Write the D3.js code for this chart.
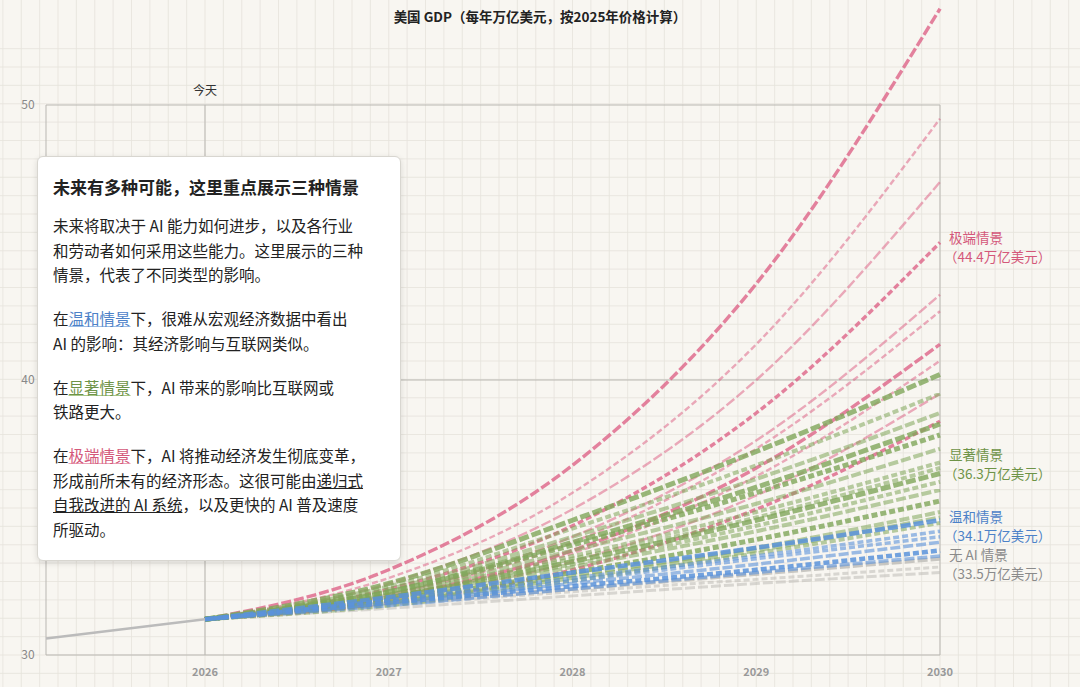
<!DOCTYPE html>
<html><head><meta charset="utf-8">
<script src="https://cdn.jsdelivr.net/npm/d3@7"></script>
<style>
body{margin:0;background:#f8f6f1;font-family:"Noto Sans CJK SC","Noto Sans",sans-serif;}
#box{position:absolute;left:37px;top:156px;width:364px;height:405px;box-sizing:border-box;background:#fff;border:1px solid #d8d6d0;border-radius:6px;box-shadow:0 2px 6px rgba(0,0,0,.12);padding:18px 15px;color:#222;font-size:15.5px;line-height:24.5px;white-space:nowrap;}
#box h3{margin:0 0 14px;font-size:17px;line-height:24px;}
#box p{margin:0 0 19.5px;}
.b{color:#4d82c8;text-decoration:underline;text-decoration-color:#9dbde6;}
.g{color:#6e9347;text-decoration:underline;text-decoration-color:#a9c78a;}
.r{color:#d4587a;text-decoration:underline;text-decoration-color:#eaa3b6;}
.u{text-decoration:underline;}
</style></head><body>
<div id="chart"></div>
<div id="box">
<h3>未来有多种可能，这里重点展示三种情景</h3>
<p>未来将取决于 AI 能力如何进步，以及各行业<br>和劳动者如何采用这些能力。这里展示的三种<br>情景，代表了不同类型的影响。</p>
<p>在<span class="b">温和情景</span>下，很难从宏观经济数据中看出<br>AI 的影响：其经济影响与互联网类似。</p>
<p>在<span class="g">显著情景</span>下，AI 带来的影响比互联网或<br>铁路更大。</p>
<p>在<span class="r">极端情景</span>下，AI 将推动经济发生彻底变革，<br>形成前所未有的经济形态。这很可能由<span class="u">递归式</span><br><span class="u">自我改进的 AI 系统</span>，以及更快的 AI 普及速度<br>所驱动。</p>
</div>
<script>
const years = [2026, 2027, 2028, 2029, 2030];
const history = [[2025.135, 30.6], [2026, 31.3]];
const extreme = [
  [31.3, 33.1, 36.9, 43.5, 53.5], [31.3, 32.8, 35.9, 41.3, 49.5], [31.3, 32.6, 35.3, 40.0, 47.2],
  [31.3, 32.4, 34.7, 38.8, 45.0], [31.3, 32.2, 34.3, 37.8, 43.1], [31.3, 32.2, 34.1, 37.5, 42.5],
  [31.3, 32.1, 33.8, 36.8, 41.3], [31.3, 32.1, 33.7, 36.5, 40.7], [31.3, 32.0, 33.4, 35.8, 39.5],
  [31.3, 31.9, 33.1, 35.3, 38.5]
];
const substantial = [
  [31.3, 32.6, 34.9, 37.4, 40.2], [31.3, 32.5, 34.6, 36.9, 39.5], [31.3, 32.4, 34.3, 36.4, 38.8],
  [31.3, 32.3, 34.0, 35.9, 38.0], [31.3, 32.2, 33.8, 35.5, 37.5], [31.3, 32.2, 33.6, 35.2, 37.0],
  [31.3, 32.1, 33.4, 34.9, 36.6], [31.3, 32.1, 33.3, 34.7, 36.3], [31.3, 32.0, 33.2, 34.5, 36.0],
  [31.3, 32.0, 33.0, 34.2, 35.6], [31.3, 31.9, 32.9, 33.9, 35.2], [31.3, 31.8, 32.7, 33.7, 34.8],
  [31.3, 32.3, 34.1, 36.1, 38.4], [31.3, 32.1, 33.5, 35.0, 36.8], [31.3, 31.9, 32.8, 33.8, 35.0]
];
const moderate = [
  [31.3, 32.1, 33.0, 33.9, 34.9], [31.3, 32.0, 32.8, 33.6, 34.5], [31.3, 31.9, 32.6, 33.3, 34.1],
  [31.3, 31.9, 32.5, 33.1, 33.8], [31.3, 31.8, 32.4, 33.0, 33.6], [31.3, 32.0, 32.7, 33.5, 34.3]
];
const noAI = [
  [31.3, 31.85, 32.4, 32.95, 33.5], [31.3, 31.8, 32.3, 32.75, 33.2], [31.3, 31.7, 32.15, 32.6, 33.0]
];
const yTicks = [30, 40, 50];
const scenarioLabels = [
  {name: '极端情景', value: '（44.4万亿美元）', at: 45.0, color: '#d4587a'},
  {name: '显著情景', value: '（36.3万亿美元）', at: 37.1, color: '#6e9347'},
  {name: '温和情景', value: '（34.1万亿美元）', at: 34.85, color: '#4d82c8'},
  {name: '无 AI 情景', value: '（33.5万亿美元）', at: 33.45, color: '#8a8a8a'}
];

const W = 1080, H = 687;
const x = d3.scaleLinear().domain([2026, 2030]).range([205, 940]);
const y = d3.scaleLinear().domain([30, 50]).range([655, 105]);
const svg = d3.select('#chart').append('svg').attr('width', W).attr('height', H);

// background grid
const step = 18.375;
svg.append('g').selectAll('line').data(d3.range(-12, 60)).join('line')
  .attr('x1', d => 205 + d * step).attr('x2', d => 205 + d * step).attr('y1', 0).attr('y2', H)
  .attr('stroke', '#e6e3dc').attr('stroke-width', 0.8);
svg.append('g').selectAll('line').data(d3.range(-6, 34)).join('line')
  .attr('y1', d => 655 - d * step).attr('y2', d => 655 - d * step).attr('x1', 0).attr('x2', W)
  .attr('stroke', '#e6e3dc').attr('stroke-width', 0.8);

// frame
const frame = '#b9b7b2';
svg.selectAll('.hl').data(yTicks).join('line')
  .attr('x1', 46).attr('x2', 940).attr('y1', d => y(d)).attr('y2', d => y(d))
  .attr('stroke', frame);
[46, 205, 940].forEach(v => svg.append('line').attr('x1', v).attr('x2', v)
  .attr('y1', y(50)).attr('y2', y(30)).attr('stroke', frame));
svg.selectAll('.yt').data(yTicks).join('text')
  .attr('x', 28).attr('y', d => y(d) + 4).attr('text-anchor', 'middle')
  .attr('font-size', 12).attr('fill', '#888').text(d => d);
svg.selectAll('.xt').data(years).join('text')
  .attr('x', d => x(d)).attr('y', 676).attr('text-anchor', 'middle')
  .attr('font-size', 11).attr('font-weight', 'bold').attr('fill', '#999').text(d => d);
svg.append('text').attr('x', 205).attr('y', 95).attr('text-anchor', 'middle')
  .attr('font-size', 12).attr('fill', '#333').text('今天');
svg.append('text').attr('x', 540).attr('y', 22).attr('text-anchor', 'middle')
  .attr('font-size', 13.5).attr('font-weight', 'bold').attr('fill', '#222')
  .text('美国 GDP（每年万亿美元，按2025年价格计算）');

const line = d3.line().x((d, i) => x(years[i])).y(d => y(d)).curve(d3.curveMonotoneX);
svg.append('clipPath').attr('id', 'c').append('rect')
  .attr('x', 46).attr('y', 0).attr('width', 1000).attr('height', 655);
const g = svg.append('g').attr('clip-path', 'url(#c)');
const drawSet = (set, color, w, op) => g.append('g').selectAll('path').data(set).join('path')
  .attr('d', line).attr('fill', 'none').attr('stroke', color)
  .attr('stroke-width', (d, i) => i % 3 === 0 ? w + 1 : w)
  .attr('stroke-dasharray', (d, i) => i % 2 ? '6,3' : '10,3')
  .attr('stroke-opacity', (d, i) => i % 3 === 0 ? op + 0.25 : op);
drawSet(noAI, '#bdbbb6', 3, 0.55);
drawSet(extreme, '#dc5a80', 2.4, 0.5);
drawSet(substantial, '#7fa65a', 4, 0.55);
drawSet(moderate, '#5b93db', 3.5, 0.6);
svg.append('path').datum(history)
  .attr('d', d3.line().x(d => x(d[0])).y(d => y(d[1])))
  .attr('stroke', '#bbb').attr('stroke-width', 2.5).attr('fill', 'none');

const lab = svg.selectAll('.lab').data(scenarioLabels).join('text')
  .attr('x', 949).attr('y', d => y(d.at)).attr('font-size', 13.5).attr('fill', d => d.color);
lab.append('tspan').text(d => d.name);
lab.append('tspan').attr('x', 944).attr('dy', 19).text(d => d.value);
</script>
</body></html>
